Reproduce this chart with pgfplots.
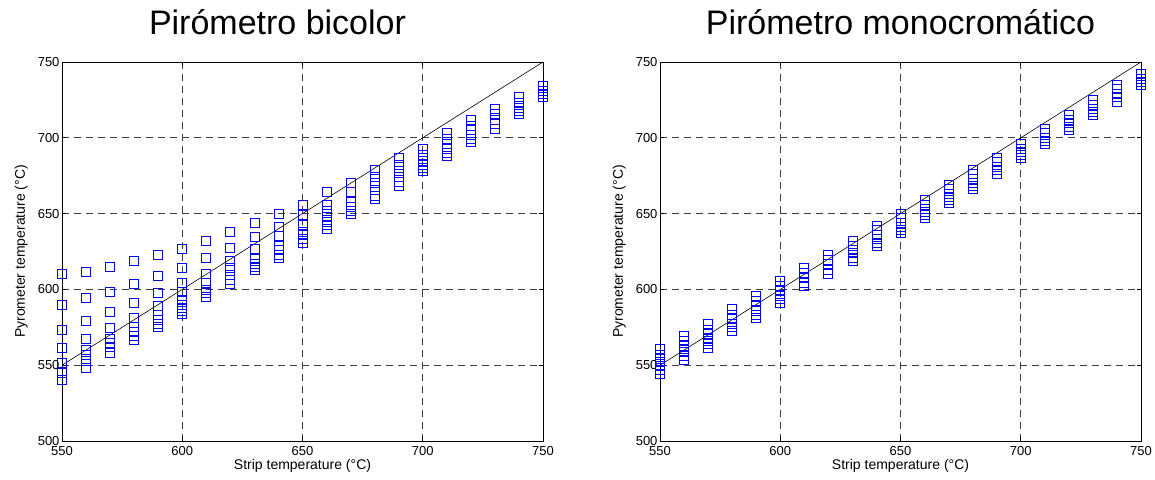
\documentclass[border=0pt]{standalone}
\usepackage{pgfplots}
\pgfplotsset{compat=1.18}
\usepackage{fontspec}
\setmainfont{Liberation Sans}
\pgfplotsset{
  mystyle/.style={
    scale only axis, width=481pt, height=379pt,
    xmin=550, xmax=750, ymin=500, ymax=750,
    xtick={550,600,...,750}, ytick={500,550,...,750},
    grid=major,
    grid style={gray!50!black, line width=0.7pt, dash pattern=on 7pt off 5pt},
    axis line style={black, line width=0.8pt},
    tick style={black, line width=0.8pt},
    tick align=inside, major tick length=4pt,
    /pgf/number format/assume math mode=true,
    ticklabel style={font=\fontsize{13}{13}\selectfont},
    xticklabel style={anchor=base, yshift=-14pt},
    yticklabel style={anchor=east, xshift=1pt},
    xlabel={Strip temperature (°C)},
    ylabel={Pyrometer temperature (°C)},
    label style={font=\fontsize{14}{14}\selectfont},
    xlabel style={at={(axis description cs:0.5,-0.0765)}, anchor=base},
    ylabel style={at={(axis description cs:-0.077,0.5)}, anchor=base, rotate=0},
    title style={anchor=base, font=\fontsize{34}{34}\selectfont},
  },
  pts/.style={only marks, mark=square, mark size=4.5pt, blue, mark options={line width=0.8pt, fill=none}},
}
\pgfplotstableread{
x y
550 610
550 590
550 573.5
550 561.5
550 551.5
550 545
550 540
560 611.5
560 594.5
560 579.5
560 567.5
560 560
560 556.5
560 553
560 548.5
570 615
570 598.5
570 585
570 574.5
570 567.5
570 564.5
570 562
570 558
580 618.5
580 603.5
580 591
580 581
580 575
580 572
580 569.5
580 566.5
590 622.5
590 609
590 597.5
590 589
590 583
590 580
590 577
590 575
600 627
600 614
600 604.5
600 598.5
600 593
600 590
600 587.5
600 586
600 584
610 632
610 621
610 610.5
610 604
610 600
610 597.5
610 595
620 638
620 627.5
620 618.5
620 614
620 609.5
620 606
620 603.5
630 644
630 634.5
630 626.5
630 620
630 617
630 615
630 613
640 649.5
640 641.5
640 635
640 628.5
640 626
640 623
640 620.5
650 656
650 649
650 642.5
650 638
650 636
650 633.5
650 630.5
660 664
660 655.5
660 651.5
660 648
660 644.5
660 642.5
660 640
670 670.5
670 664
670 658
670 654.5
670 652
670 650
680 679
680 674.5
680 670
680 665.5
680 662
680 660
690 686.5
690 682
690 678
690 674
690 671
690 668
700 693
700 689
700 685
700 682
700 680
700 678
710 703
710 699
710 696
710 693
710 690
710 688
720 712
720 708
720 705
720 702
720 699
720 697
730 719
730 716
730 712
730 709
730 706
740 727
740 723
740 720
740 718
740 716
750 734
750 731
750 729
750 727
}\bicolor
\pgfplotstableread{
x y
550 561
550 557
550 554
550 552
550 549.5
550 547
550 544
560 569
560 566
560 562.5
560 560.5
560 558.5
560 556
560 553.5
570 577.5
570 573.5
570 570.5
570 568
570 566
570 564
570 561.5
580 587
580 583.5
580 580.5
580 577.5
580 575
580 572.5
590 596
590 592.5
590 589
590 586
590 583.5
590 581.5
600 605.5
600 602
600 599
600 595.5
600 593.5
600 591
610 614.5
610 611
610 607.5
610 604.5
610 602
620 623
620 619.5
620 616.5
620 613
620 610.5
630 632
630 629
630 626
630 624
630 621
630 619
640 642
640 639
640 636
640 633
640 631
640 629
650 650
650 647
650 644
650 641
650 639
650 637
660 659
660 656
660 653
660 651
660 649
660 647
670 669
670 666
670 663
670 661
670 659
670 657
680 679
680 676
680 673
680 670
680 668
680 666
690 687
690 684
690 681
690 679
690 676
700 696
700 693
700 691
700 689
700 687
710 706
710 703
710 700
710 698
710 696
720 715
720 712
720 710
720 707
720 705
730 725
730 722
730 719
730 717
730 715
740 735
740 732
740 729
740 727
740 724
750 742
750 739
750 737
750 735
}\mono
\begin{document}
\begin{tikzpicture}
\begin{axis}[mystyle, at={(0pt,0pt)}, anchor=south west, title={Pirómetro bicolor},
  title style={at={(axis description cs:0.448,1.058)}}]
\addplot[pts] table[x=x,y=y] {\bicolor};
\addplot[black, line width=0.6pt] coordinates {(550,550) (750,750)};
\end{axis}
\begin{axis}[mystyle, at={(598pt,0pt)}, anchor=south west, title={Pirómetro monocromático},
  title style={at={(axis description cs:0.5,1.058)}}]
\addplot[pts] table[x=x,y=y] {\mono};
\addplot[black, line width=0.6pt] coordinates {(550,550) (750,750)};
\end{axis}
\pgfresetboundingbox
\path[use as bounding box] (-62pt,-38pt) rectangle (1093pt,441pt);
\end{tikzpicture}
\end{document}
